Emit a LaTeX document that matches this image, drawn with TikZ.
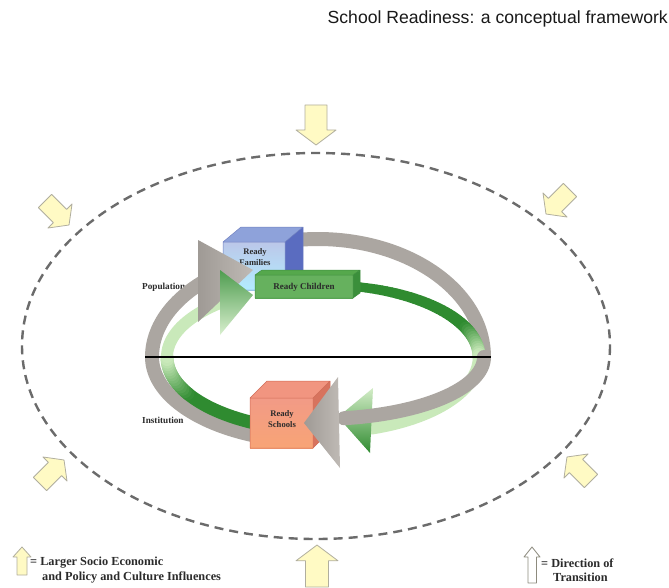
\documentclass[tikz,border=0pt]{standalone}
\usepackage{fontspec}
\setmainfont{Liberation Serif}
\newfontfamily\titlefont{Liberation Sans}
\definecolor{yfill}{HTML}{FFFAC4}
\definecolor{ydraw}{HTML}{B0AE9E}
\definecolor{dashc}{HTML}{6B6B6B}
\definecolor{graybd}{HTML}{ABA6A1}
\definecolor{grayL}{HTML}{BFBAB5}
\definecolor{grayD}{HTML}{9F9A95}
\definecolor{gdark}{HTML}{2F8B30}
\definecolor{glight}{HTML}{C9E9BA}
\definecolor{famtopc}{HTML}{8EA2DA}
\definecolor{famsidec}{HTML}{5A6CC0}
\definecolor{famline}{HTML}{7080C0}
\definecolor{chtopc}{HTML}{55A84C}
\definecolor{chsidec}{HTML}{3B8F3B}
\definecolor{chline}{HTML}{3F8F3F}
\definecolor{schtopc}{HTML}{F19580}
\definecolor{schsidec}{HTML}{D7735E}
\definecolor{schline}{HTML}{D06A55}
\definecolor{txtc}{HTML}{2B2B2B}
\newcommand\setbw[2]{\def\bsWa{#1}\def\bsWb{#2}}
% band along an elliptical arc: cx cy rx ry a1 a2 colourstart colourend
\newcommand\bandseg[8]{%
  \pgfmathtruncatemacro\bsN{ceil(abs(#6-#5)/2)}%
  \foreach \i in {1,...,\bsN}{%
    \pgfmathsetmacro\bsA{#5+(#6-#5)*(\i-1)/\bsN}%
    \pgfmathsetmacro\bsB{#5+(#6-#5)*\i/\bsN}%
    \pgfmathsetmacro\bsT{100*(1-(\i-0.5)/\bsN)}%
    \pgfmathsetmacro\bsW{\bsWa+(\bsWb-\bsWa)*(\i-0.5)/\bsN}%
    \draw[line width=\bsW pt, line cap=round, color={#7!\bsT!#8}]
      ({#1+#3*cos(\bsA)},{#2+#4*sin(\bsA)}) -- ({#1+#3*cos(\bsB)},{#2+#4*sin(\bsB)});
  }}
\newcommand\blockarrow[5]{%
  \begin{scope}[shift={(#2,#3)}, rotate=#4, scale=#5]
    \draw[yarrow] (-20,-11) -- (5,-11) -- (5,-20) -- (20,0) -- (5,20) -- (5,11) -- (-20,11) -- cycle;
    \coordinate (#1) at (20,0);
  \end{scope}}
\tikzset{
  yarrow/.style={fill=yfill, draw=ydraw, line width=0.8pt, line join=round},
  warrow/.style={fill=white, draw=ydraw!80!black, line width=0.8pt, line join=round},
  dashring/.style={draw=dashc, line width=2.4pt, dash pattern=on 9pt off 6pt},
  lbl/.style={font=\bfseries\fontsize{9.2}{10}\selectfont, text=txtc, inner sep=0pt},
  boxtxt/.style={font=\bfseries\fontsize{9}{10.5}\selectfont, text=txtc, inner sep=0pt, align=center},
  legtxt/.style={font=\bfseries\fontsize{12.3}{14}\selectfont, text=txtc, inner sep=0pt, anchor=west},
  grayband/.style={draw=graybd, line width=14pt, line cap=round},
  edge1/.style={line width=0.5pt, line join=round}
}
\begin{document}
\begin{tikzpicture}[x=1pt, y=-1pt, line join=round]
\useasboundingbox (0,0) rectangle (669,588);
\fill[white] (0,0) rectangle (669,588);

% title
\node[anchor=east, inner sep=0pt, font=\titlefont\fontsize{17.6}{20}\selectfont, text=black!90] (title) at (668,19) {School Readiness: a conceptual framework};

% outer dashed ellipse
\draw[dashring] (316,346) ellipse[x radius=294, y radius=193];

% influence arrows
\blockarrow{atop}{316}{125}{-90}{1}
\blockarrow{abot}{317}{566}{90}{1.05}
\blockarrow{anw}{57}{213}{-45}{0.85}
\blockarrow{ane}{558}{202}{-135}{0.85}
\blockarrow{asw}{52}{472}{45}{0.85}
\blockarrow{ase}{579}{469}{135}{0.85}

% legend
\draw[yarrow] (22,547) -- (31,557) -- (27,557) -- (27,575) -- (17,575) -- (17,557) -- (13,557) -- cycle;
\node[legtxt] (leg1) at (30,563) {= Larger Socio Economic};
\node[legtxt] (leg2) at (42,577) {and Policy and Culture Influences};
\draw[warrow] (532,547) -- (540,557) -- (536.5,557) -- (536.5,583) -- (528,583) -- (528,557) -- (524,557) -- cycle;
\node[legtxt] (leg3) at (541,563) {= Direction of};
\node[legtxt] (leg4) at (553,577) {Transition};

% side labels
\node[lbl, anchor=west] (pop) at (142,287) {Population};
\node[lbl, anchor=west] (inst) at (142,420) {Institution};

% gray band, lower-left and left
\draw[grayband] plot[domain=105:180, samples=40] ({318+166*cos(\x)},{357+85*sin(\x)});
\draw[grayband] plot[domain=180:229, samples=30] ({318+166*cos(\x)},{357+104*sin(\x)});

% green band, lower-left and left
\setbw{13}{13}
\draw[line width=13pt, line cap=round, gdark] plot[domain=105:150, samples=25] ({323+156*cos(\x)},{357+73.5*sin(\x)});
\bandseg{323}{357}{156}{73.5}{150}{180}{gdark}{glight}
\draw[line width=12pt, line cap=round, glight] plot[domain=180:231, samples=30] ({323+156*cos(\x)},{357+72*sin(\x)});

% gray band, upper-right (behind the Families cube)
\draw[grayband] plot[domain=262:360, samples=50] ({318+166*cos(\x)},{357+118*sin(\x)});

% Ready Families cube
\fill[famtopc] (223,242) -- (285,242) -- (303,227) -- (241,227) -- cycle;
\fill[famsidec] (285,242) -- (303,227) -- (303,275) -- (285,290) -- cycle;
\shade[top color=famtopc!60!white, middle color=white!80!famtopc!60!pink, bottom color=blue!25!cyan!30!white] (223,242) rectangle (285,290);
\draw[famline, edge1] (223,242) -- (241,227) -- (303,227) -- (303,275) -- (285,290) -- (223,290) -- cycle (223,242) -- (285,242) -- (303,227) (285,242) -- (285,290);
\node[boxtxt, font=\bfseries\fontsize{8.6}{10.5}\selectfont] (famtxt) at (255,257) {Ready\\Families};

% green band, upper-right and lower-right
\setbw{9}{12}
\bandseg{323}{357}{156}{72}{278}{336}{gdark}{gdark}
\setbw{12}{13}
\bandseg{323}{357}{156}{72}{336}{360}{gdark}{glight}
\draw[line width=12.5pt, line cap=round, glight] plot[domain=0:71.7, samples=40] ({323+156*cos(\x)},{357+75*sin(\x)});

% lower green arrowhead
\shade[top color=glight!80!white, bottom color=gdark] (373,388) -- (370,453) -- (338,417) -- cycle;

% gray band, lower-right (over the green arrowhead)
\draw[grayband] plot[domain=0:81, samples=40] ({318+166*cos(\x)},{357+62*sin(\x)});

% upper arrowheads
\shade[left color=grayD, right color=grayL] (198,240) -- (198,322) -- (253,270) -- cycle;
\shade[top color=gdark!85!white, bottom color=glight!70!white] (220,270) -- (220,335) -- (253,295) -- cycle;

% Ready Children bar
\fill[chtopc] (255,275) -- (353,275) -- (360,270) -- (262,270) -- cycle;
\fill[chsidec] (353,275) -- (360,270) -- (360,293) -- (353,298) -- cycle;
\shade[top color=chtopc!90!white, middle color=green!8!white, bottom color=chtopc!90!white] (255,275) rectangle (353,298);
\draw[chline, edge1] (255,275) -- (262,270) -- (360,270) -- (360,293) -- (353,298) -- (255,298) -- cycle (255,275) -- (353,275) -- (360,270) (353,275) -- (353,298);
\node[boxtxt] (chtxt) at (304,287) {Ready Children};

% Ready Schools cube
\fill[schtopc] (250,398) -- (313,398) -- (330,381) -- (267,381) -- cycle;
\fill[schsidec] (313,398) -- (330,381) -- (330,431) -- (313,448) -- cycle;
\shade[top color=schtopc!95!white, bottom color=orange!35!schtopc!80!white] (250,398) rectangle (313,448);
\draw[schline, edge1] (250,398) -- (267,381) -- (330,381) -- (330,431) -- (313,448) -- (250,448) -- cycle (250,398) -- (313,398) -- (330,381) (313,398) -- (313,448);
\node[boxtxt, font=\bfseries\fontsize{8.6}{10.5}\selectfont] (schtxt) at (282,419) {Ready\\Schools};

% lower gray arrowhead
\shade[left color=grayD, right color=grayL] (338,377) -- (340,468) -- (304,423) -- cycle;

% horizon line
\coordinate (hl) at (145,357);
\coordinate (hr) at (491,357);
\draw[black, line width=1.3pt] (hl) -- (hr);
\end{tikzpicture}
\end{document}
